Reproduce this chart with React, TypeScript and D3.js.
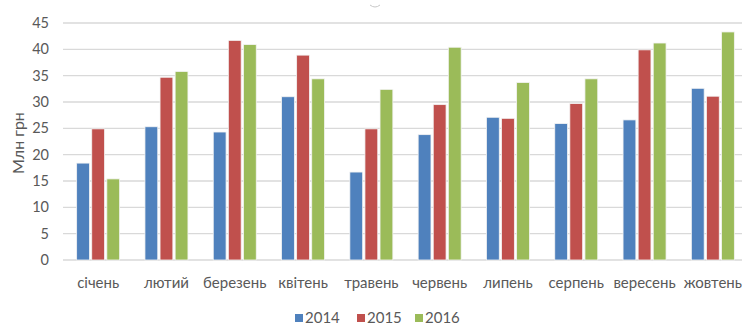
import React from "react";
import * as d3 from "d3";

const categories = ["січень", "лютий", "березень", "квітень", "травень", "червень", "липень", "серпень", "вересень", "жовтень"];
const seriesNames = ["2014", "2015", "2016"];
const values2014 = [18.4, 25.3, 24.3, 31.0, 16.7, 23.8, 27.1, 25.9, 26.6, 32.6];
const values2015 = [24.9, 34.7, 41.7, 38.9, 24.9, 29.5, 26.9, 29.7, 39.9, 31.1];
const values2016 = [15.4, 35.8, 40.9, 34.4, 32.4, 40.4, 33.7, 34.4, 41.2, 43.3];
const yTicks = [0, 5, 10, 15, 20, 25, 30, 35, 40, 45];
const colors = ["#4F81BD", "#C0504D", "#9BBB59"];

const W = 744;
const H = 325;
const FONT = "Lato, 'Open Sans', sans-serif";

export default function App() {
  const series = [values2014, values2015, values2016];
  const x = d3.scaleBand<string>().domain(categories).range([64, 747]).padding(0);
  const inner = d3.scaleBand<string>().domain(seriesNames).range([-21.5, 21.5]).paddingInner(0.15).paddingOuter(0);
  const y = d3.scaleLinear().domain([0, 45]).range([260, 23]);
  const gridLeft = 63;
  const gridRight = 742;

  const legendX = [295, 357, 415];

  return (
    <svg width={W} height={H} style={{ position: "absolute", left: 0, top: 0, background: "#fff" }}>
      <rect width={W} height={H} fill="#fff" />
      <path d="M370 5 Q375 9 380 5" stroke="#c8c8c8" strokeWidth={1} fill="none" />
      {yTicks.map((t) => (
        <g key={t}>
          <line x1={gridLeft} x2={gridRight} y1={y(t)} y2={y(t)} stroke="#d9d9d9" strokeWidth={1.3} />
          <text x={49} y={y(t)} dy="0.35em" textAnchor="end" fontFamily={FONT} fontSize={14.5} fill="#595959">
            {t}
          </text>
        </g>
      ))}
      {categories.map((c, i) => {
        const cx = (x(c) as number) + x.bandwidth() / 2;
        return (
          <g key={c}>
            {series.map((s, j) => {
              const bx = cx + (inner(seriesNames[j]) as number);
              return (
                <rect
                  key={j}
                  x={bx}
                  y={y(s[i])}
                  width={inner.bandwidth()}
                  height={y(0) - y(s[i])}
                  fill={colors[j]}
                  stroke="#f4f4f4"
                  strokeWidth={0.8}
                />
              );
            })}
            <text x={cx} y={283} dy="0.35em" textAnchor="middle" fontFamily={FONT} fontSize={15} fill="#595959">
              {c}
            </text>
          </g>
        );
      })}
      <text
        transform={`translate(18,143) rotate(-90)`}
        textAnchor="middle"
        dy="0.35em"
        fontFamily={FONT}
        fontSize={16}
        fill="#595959"
      >
        Млн грн
      </text>
      {seriesNames.map((n, j) => (
        <g key={n}>
          <rect x={legendX[j]} y={314} width={8} height={8} fill={colors[j]} />
          <text x={legendX[j] + 10} y={318} dy="0.35em" fontFamily={FONT} fontSize={15} fill="#595959">
            {n}
          </text>
        </g>
      ))}
    </svg>
  );
}
